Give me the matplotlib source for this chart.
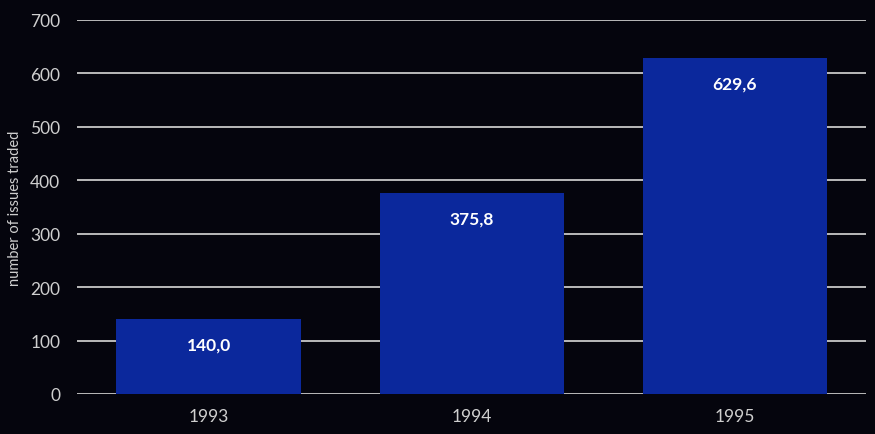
import matplotlib
matplotlib.use('Agg')
import matplotlib.pyplot as plt

# Datos
years = ['1993', '1994', '1995']
issues = [140.0, 375.8, 629.6]
value_labels = ['140,0', '375,8', '629,6']
y_ticks = [0, 100, 200, 300, 400, 500, 600, 700]

bg = '#05050d'
bar_color = '#0b289c'

plt.rcParams['font.family'] = ['Lato', 'DejaVu Sans']

fig = plt.figure(figsize=(8.75, 4.35), dpi=100, facecolor=bg)
ax = fig.add_axes([0.088, 0.092, 0.902, 0.86], facecolor=bg)

x = range(len(years))
bars = ax.bar(x, issues, width=0.7, color=bar_color, zorder=2)

# Etiquetas de valor dentro de las barras
for xi, val, lab in zip(x, issues, value_labels):
    ax.text(xi, val - 48, lab, ha='center', va='center', color='white',
            fontsize=12.5, fontweight='bold', zorder=3)

ax.set_xlim(-0.5, 2.5)
ax.set_ylim(0, 700)
ax.set_yticks(y_ticks)
ax.set_xticks(list(x))
ax.set_xticklabels(years)
ax.grid(axis='y', color='#c8c8c8', linewidth=1.3, zorder=1)
ax.set_axisbelow(True)

for s in ax.spines.values():
    s.set_visible(False)
ax.tick_params(axis='both', length=0, colors='#cfcfcf', labelsize=12.5)
ax.tick_params(axis='y', pad=12)
ax.tick_params(axis='x', pad=10)

ax.set_ylabel('number of issues traded', color='#cfcfcf', fontsize=10.5, labelpad=6)

plt.savefig('out.png', facecolor=bg)
